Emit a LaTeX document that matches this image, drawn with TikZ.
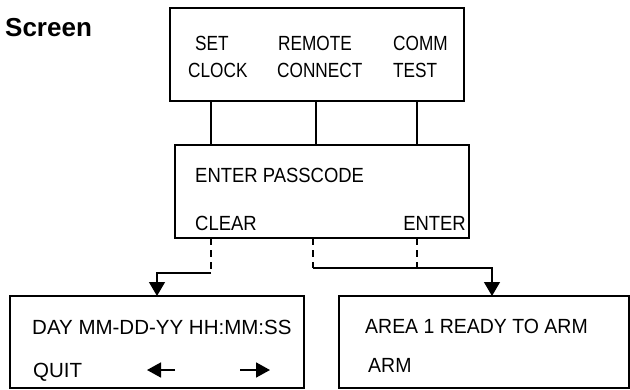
\documentclass[tikz,border=0pt]{standalone}
\usepackage{fontspec}
\setmainfont{Liberation Sans}
\newfontfamily\fa[FakeStretch=0.84]{Liberation Sans}
\newfontfamily\fb[FakeStretch=0.9]{Liberation Sans}
\newfontfamily\fc[FakeStretch=0.95]{Liberation Sans}
\usetikzlibrary{arrows.meta}
\begin{document}
\begin{tikzpicture}[x=1pt,y=-1pt,
  box/.style={draw,line width=1.3pt,inner sep=0pt,outer sep=0pt,anchor=north west},
  lab/.style={inner sep=0pt,anchor=base west},
  ta/.style={lab,font=\fa\fontsize{20.5}{24}\selectfont},
  tb/.style={lab,font=\fb\fontsize{20.5}{24}\selectfont},
  tc/.style={lab,font=\fontsize{20.5}{24}\selectfont},
  td/.style={lab,font=\fc\fontsize{20.5}{24}\selectfont},
  conn/.style={line width=1.2pt},
  dconn/.style={line width=1.3pt,dash pattern=on 7pt off 5pt},
  tip/.style={-{Triangle[width=16pt,length=14pt]}},
  kbd/.style={line width=1.7pt,-{Triangle[width=15pt,length=14pt]}}]
\useasboundingbox (0,0) rectangle (630,389);

% boxes
\node[box,minimum width=294pt,minimum height=93pt] (top) at (170,8) {};
\node[box,minimum width=294pt,minimum height=93pt] (mid) at (175,145) {};
\node[box,minimum width=294pt,minimum height=92pt] (bl) at (10,296) {};
\node[box,minimum width=290pt,minimum height=92pt] (br) at (339,296) {};

% texts
\node[lab,font=\bfseries\fontsize{26}{30}\selectfont] (scr) at (5,36) {Screen};
\node[ta] (set) at (195,50) {SET};
\node[ta] (clock) at (188,77) {CLOCK};
\node[ta] (remote) at (278,50) {REMOTE};
\node[ta] (connect) at (277,77) {CONNECT};
\node[ta] (comm) at (393,50) {COMM};
\node[ta] (test) at (393,77) {TEST};
\node[tb] (pass) at (195,182) {ENTER PASSCODE};
\node[tb] (clear) at (195,230) {CLEAR};
\node[tb,anchor=base east] (enter) at (466,230) {ENTER};
\node[tc] (day) at (32,334) {DAY MM-DD-YY HH:MM:SS};
\node[tc] (quit) at (33,377) {QUIT};
\node[td] (area) at (365,333) {AREA 1 READY TO ARM};
\node[td] (arm) at (368,372) {ARM};

% key arrows
\coordinate (la1) at (175,370);
\coordinate (la2) at (147,370);
\coordinate (ra1) at (240,370);
\coordinate (ra2) at (270,370);
\draw[kbd] (la1) -- (la2);
\draw[kbd] (ra1) -- (ra2);

% connectors top -> mid
\coordinate (c1) at (211,0);
\coordinate (c2) at (316,0);
\coordinate (c3) at (417,0);
\draw[conn] (top.south -| c1) -- (mid.north -| c1);
\draw[conn] (top.south -| c2) -- (mid.north -| c2);
\draw[conn] (top.south -| c3) -- (mid.north -| c3);

% dashed connectors mid -> bottom
\coordinate (jl) at (211,273);
\coordinate (jr) at (313,268);
\coordinate (jm) at (417,268);
\coordinate (ar) at (492,0);
\draw[dconn] (mid.south -| jl) -- (jl);
\draw[conn,tip] (jl) -| (bl.north);
\draw[dconn] (mid.south -| jr) -- (jr);
\draw[dconn] (mid.south -| jm) -- (jm);
\draw[conn,tip] (jr) -| (br.north -| ar);
\end{tikzpicture}
\end{document}
